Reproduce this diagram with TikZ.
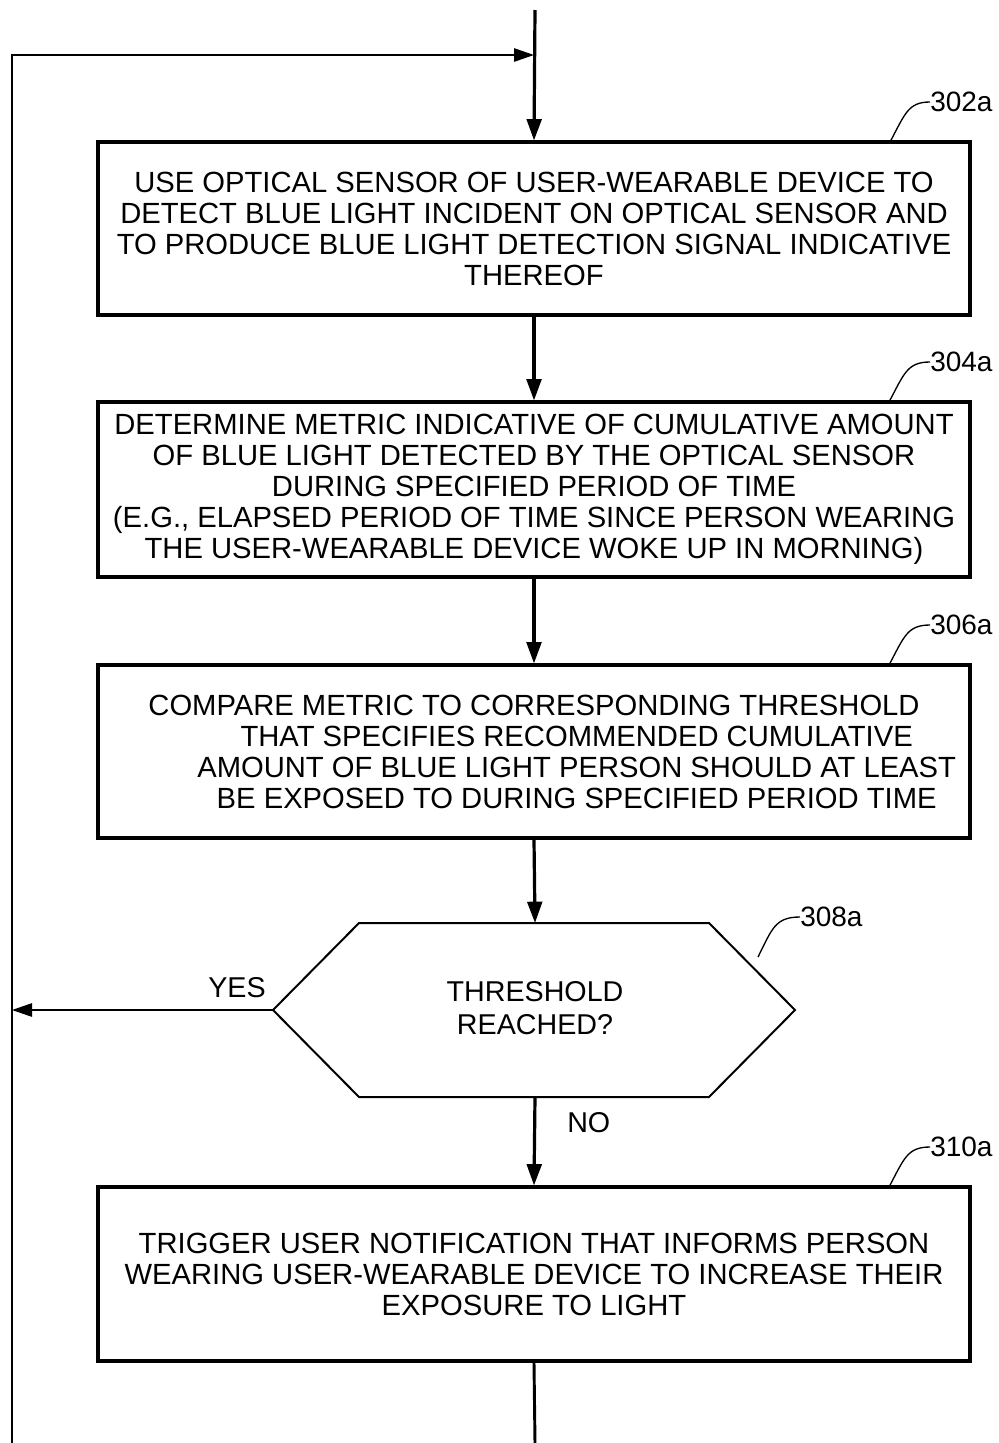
\documentclass[tikz,border=0pt]{standalone}
\usepackage{fontspec}
\setmainfont{Liberation Sans}
\usetikzlibrary{arrows.meta}
\begin{document}
\begin{tikzpicture}[x=0.75pt,y=-0.75pt,
  stepbox/.style={draw,line width=2.3pt,minimum width=654pt,inner sep=0pt,align=center,
    font=\fontsize{21.9pt}{23.25pt}\selectfont},
  flow/.style={line width=2.4pt,-{Triangle[length=16pt,width=11pt]}},
  loopline/.style={line width=1.3pt},
  looparrow/.style={line width=1.3pt,-{Triangle[length=15pt,width=10pt]}},
  lbl/.style={anchor=west,inner sep=0pt,font=\fontsize{21pt}{23pt}\selectfont},
  lead/.style={line width=1pt},
  txt/.style={inner sep=0pt,font=\fontsize{21.5pt}{23.25pt}\selectfont,align=center}]
\useasboundingbox (0,0) rectangle (999,1443);

\node[stepbox,minimum height=129.75pt] (b1) at (534,228.5)
 {USE OPTICAL SENSOR OF USER-WEARABLE DEVICE TO\\
  DETECT BLUE LIGHT INCIDENT ON OPTICAL SENSOR AND\\
  TO PRODUCE BLUE LIGHT DETECTION SIGNAL INDICATIVE\\
  THEREOF};
\node[stepbox,minimum height=131.25pt] (b2) at (534,489.5)
 {DETERMINE METRIC INDICATIVE OF CUMULATIVE AMOUNT\\
  OF BLUE LIGHT DETECTED BY THE OPTICAL SENSOR\\
  DURING SPECIFIED PERIOD OF TIME\\
  (E.G., ELAPSED PERIOD OF TIME SINCE PERSON WEARING\\
  THE USER-WEARABLE DEVICE WOKE UP IN MORNING)};
\node[stepbox,minimum height=129.75pt] (b3) at (534,751.5)
 {COMPARE METRIC TO CORRESPONDING THRESHOLD\\
  \hspace*{64pt}THAT SPECIFIES RECOMMENDED CUMULATIVE\\
  \hspace*{64pt}AMOUNT OF BLUE LIGHT PERSON SHOULD AT LEAST\\
  \hspace*{64pt}BE EXPOSED TO DURING SPECIFIED PERIOD TIME};
\node[stepbox,minimum height=130.5pt] (b4) at (534,1274)
 {TRIGGER USER NOTIFICATION THAT INFORMS PERSON\\
  WEARING USER-WEARABLE DEVICE TO INCREASE THEIR\\
  EXPOSURE TO LIGHT};

% decision hexagon
\coordinate (hT) at (535,923);
\coordinate (hB) at (535,1097);
\coordinate (hL) at (273,1010);
\coordinate (hR) at (795,1010);
\draw[line width=1.5pt,line join=miter] (hL) -- (359,923) -- (709,923) -- (hR) -- (709,1097) -- (359,1097) -- cycle;
\node[txt] (dec) at (535,1008) {THRESHOLD\\[2pt]REACHED?};

% main flow
\coordinate (top) at (535,10);
\coordinate (bot) at (535,1443);
\draw[flow] (top) -- (b1.north);
\draw[flow] (b1.south) -- (b2.north);
\draw[flow] (b2.south) -- (b3.north);
\draw[flow] (b3.south) -- (hT);
\draw[flow] (hB) -- (b4.north);
\draw[line width=2.2pt] (b4.south) -- (bot);

% loop
\coordinate (lb) at (12,1443);
\coordinate (lt) at (12,55);
\coordinate (jt) at (534,55);
\coordinate (ye) at (12,1010);
\draw[looparrow] (lb) -- (lt) -- (jt);
\draw[looparrow] (hL) -- (ye);
\node[txt,anchor=east] (yes) at (266,988) {YES};
\node[txt,anchor=west] (no) at (567,1123) {NO};

% reference labels
\node[lbl] (l302) at (930,102) {302a};
\node[lbl] (l304) at (930,362) {304a};
\node[lbl] (l306) at (930,625) {306a};
\node[lbl] (l308) at (800,917) {308a};
\node[lbl] (l310) at (930,1147) {310a};
\draw[lead] (890,142) .. controls (905,114) and (908,102) .. (l302.west);
\draw[lead] (889,402) .. controls (904,374) and (907,362) .. (l304.west);
\draw[lead] (889,665) .. controls (904,637) and (907,625) .. (l306.west);
\draw[lead] (758,957) .. controls (772,929) and (775,917) .. (l308.west);
\draw[lead] (889,1187) .. controls (904,1159) and (907,1147) .. (l310.west);
\end{tikzpicture}
\end{document}
